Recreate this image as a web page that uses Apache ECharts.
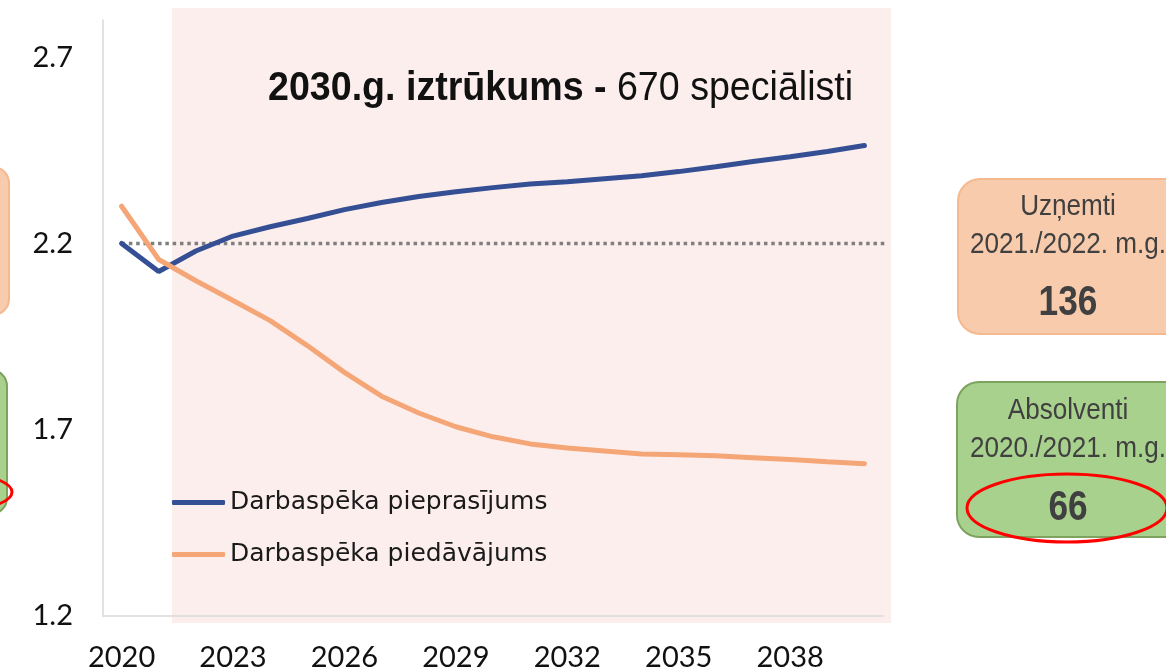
<!DOCTYPE html>
<html>
<head>
<meta charset="utf-8">
<script src="https://cdn.jsdelivr.net/npm/echarts@6/dist/echarts.min.js"></script>
<style>
  html, body { margin: 0; padding: 0; background: #fff; }
  #chart { width: 1166px; height: 672px; }
</style>
</head>
<body>
<div id="chart"></div>
<script>
// years on the x axis, one point per year
const years = [2020, 2021, 2022, 2023, 2024, 2025, 2026, 2027, 2028, 2029, 2030,
  2031, 2032, 2033, 2034, 2035, 2036, 2037, 2038, 2039, 2040];
const yearLabels = [2020, 2023, 2026, 2029, 2032, 2035, 2038];

const demand = [2.20, 2.125, 2.18, 2.22, 2.245, 2.267, 2.291, 2.31, 2.326, 2.339, 2.35,
  2.36, 2.366, 2.374, 2.382, 2.393, 2.406, 2.42, 2.433, 2.447, 2.463];
const supply = [2.30, 2.157, 2.10, 2.047, 1.993, 1.926, 1.854, 1.79, 1.745, 1.708, 1.681,
  1.662, 1.651, 1.643, 1.635, 1.633, 1.63, 1.625, 1.62, 1.614, 1.609];

// dotted reference at 2020 level, runs a bit past the last year
const baseLevel = 2.2;
const baseEnd = 2041.1;

const seriesNames = ["Darbaspēka pieprasījums", "Darbaspēka piedāvājums"];

let chart = echarts.init(document.getElementById("chart"));

const font = "Lato, 'DejaVu Sans', sans-serif";
const arial = "'Liberation Sans', Arial, sans-serif";

// text inside the side boxes, squeezed a bit to look like a narrow font
function boxText(x, y, text, bold) {
  return {
    type: "text", x: x, y: y, scaleX: bold ? 0.84 : 0.9,
    style: {
      x: 0, y: 0, text: text, fontFamily: arial,
      fontWeight: bold ? "bold" : "normal", fontSize: bold ? 42 : 29,
      fill: "#404040", align: "center", verticalAlign: "middle",
    },
  };
}

const option = {
  animation: false,
  grid: {
    left: 103,
    right: 283,
    top: 20,
    bottom: 55,
  },
  legend: {
    orient: "vertical",
    left: 172,
    top: 490,
    padding: 0,
    icon: "roundRect",
    itemWidth: 53,
    itemHeight: 5,
    itemGap: 27,
    textStyle: {
      fontFamily: "'DejaVu Sans', sans-serif",
      fontSize: 25,
      color: "#1a1a1a",
    },
    data: seriesNames,
  },
  xAxis: {
    type: "value",
    min: 2019.5,
    max: 2040.5,
    splitLine: { show: false },
    axisTick: { show: false },
    axisLine: {
      show: true,
      lineStyle: { color: "#d9d9d9", width: 1.5 },
    },
    axisLabel: {
      customValues: yearLabels,
      color: "#111",
      fontFamily: font,
      fontSize: 29,
      margin: 27,
      formatter: (v) => String(v),
    },
  },
  yAxis: {
    type: "value",
    min: 1.2,
    max: 2.8,
    interval: 0.5,
    splitLine: { show: false },
    axisTick: { show: false },
    axisLine: {
      show: true,
      lineStyle: { color: "#d9d9d9", width: 1.5 },
    },
    axisLabel: {
      showMaxLabel: false,
      color: "#111",
      fontFamily: font,
      fontSize: 29,
      margin: 30,
      formatter: (v) => v.toFixed(1),
    },
  },
  graphic: [
    // shaded forecast period
    { type: "rect", z: -10, shape: { x: 172, y: 8, width: 719, height: 615 },
      style: { fill: "#fdeeee" } },
    {
      type: "text", x: 268, y: 89, scaleX: 0.94,
      style: {
        x: 0, y: 0, align: "left", verticalAlign: "middle",
        text: "{b|2030.g. iztrūkums - }{n|670 speciālisti}",
        rich: {
          b: { fontFamily: arial, fontWeight: "bold", fontSize: 40, fill: "#111" },
          n: { fontFamily: arial, fontSize: 40, fill: "#111" },
        },
      },
    },
    // right boxes
    { type: "rect", shape: { x: 958, y: 179, width: 240, height: 155, r: 22 },
      style: { fill: "#f8cbad", stroke: "#f4b98f", lineWidth: 2 } },
    boxText(1068, 207, "Uzņemti", false),
    boxText(1068, 245, "2021./2022. m.g.", false),
    boxText(1068, 303, "136", true),
    { type: "rect", shape: { x: 957, y: 382, width: 240, height: 155, r: 22 },
      style: { fill: "#a9d18e", stroke: "#7da35f", lineWidth: 2 } },
    boxText(1068, 411, "Absolventi", false),
    boxText(1068, 449, "2020./2021. m.g.", false),
    boxText(1068, 508, "66", true),
    { type: "ellipse", shape: { cx: 1067, cy: 508, rx: 100, ry: 34 },
      style: { fill: "none", stroke: "#ff0000", lineWidth: 3 } },
    // left boxes, mostly off page
    { type: "rect", shape: { x: -200, y: 167, width: 209, height: 148, r: 16 },
      style: { fill: "#f8cbad", stroke: "#f4b98f", lineWidth: 2 } },
    { type: "rect", shape: { x: -200, y: 370, width: 207, height: 144, r: 16 },
      style: { fill: "#a9d18e", stroke: "#7da35f", lineWidth: 2 } },
    { type: "ellipse", shape: { cx: -88, cy: 492, rx: 100, ry: 24 },
      style: { fill: "none", stroke: "#ff0000", lineWidth: 3 } },
  ],
  series: [
    {
      name: "baseline",
      type: "line",
      symbol: "none",
      clip: false,
      silent: true,
      z: 1,
      lineStyle: { color: "#7f7f7f", width: 3.5, type: [3.5, 3.8] },
      data: [[years[0], baseLevel], [baseEnd, baseLevel]],
    },
    {
      name: seriesNames[0],
      type: "line",
      symbol: "none",
      lineStyle: { color: "#344f94", width: 5, cap: "round" },
      itemStyle: { color: "#344f94" },
      data: years.map((y, i) => [y, demand[i]]),
    },
    {
      name: seriesNames[1],
      type: "line",
      symbol: "none",
      lineStyle: { color: "#f4a676", width: 5, cap: "round" },
      itemStyle: { color: "#f4a676" },
      data: years.map((y, i) => [y, supply[i]]),
    },
  ],
};

chart.setOption(option);
</script>
</body>
</html>
